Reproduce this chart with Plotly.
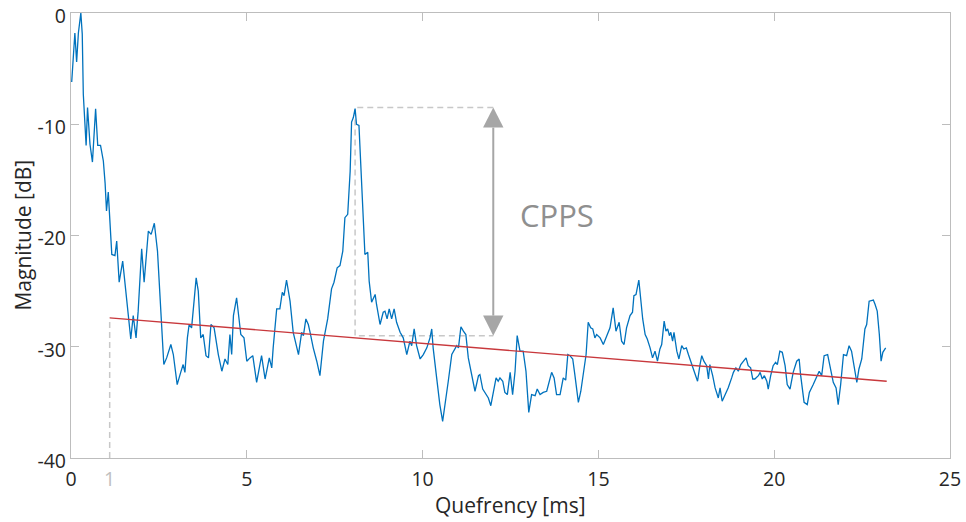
import plotly.graph_objects as go

# Cepstrum
quefrency = [
    0.02, 0.07, 0.11, 0.16, 0.21, 0.28, 0.32, 0.35, 0.43, 0.47, 0.54, 0.61, 0.70, 0.76, 0.84, 0.92, 0.97,
    1.01, 1.06, 1.16, 1.25, 1.30, 1.37, 1.47, 1.58, 1.63, 1.70, 1.77, 1.85, 1.91, 2.01, 2.08, 2.20, 2.28,
    2.37, 2.46, 2.55, 2.64, 2.72, 2.84, 2.91, 3.02, 3.12, 3.19, 3.24, 3.31, 3.36, 3.43, 3.50, 3.56, 3.62,
    3.69, 3.76, 3.84, 3.91, 3.98, 4.07, 4.12, 4.14, 4.19, 4.29, 4.38, 4.46, 4.52, 4.57, 4.62, 4.71, 4.79,
    4.83, 4.92, 5.00, 5.09, 5.17, 5.28,
    5.42, 5.52, 5.64, 5.71, 5.75, 5.85, 5.94, 6.01, 6.06, 6.13, 6.23, 6.32, 6.39, 6.47, 6.56, 6.61, 6.68,
    6.75, 6.80, 6.89, 6.99, 7.08, 7.18, 7.30, 7.41, 7.48,
    7.57, 7.65, 7.73, 7.79, 7.87, 7.94, 7.98, 8.03, 8.08, 8.12, 8.19, 8.25, 8.31, 8.36, 8.44, 8.48,
    8.55, 8.65, 8.69, 8.79, 8.88, 8.93, 8.99, 9.05, 9.12, 9.19, 9.26, 9.36, 9.45, 9.55, 9.64, 9.69, 9.76,
    9.83, 9.93, 10.02, 10.12, 10.21,
    10.26, 10.30, 10.40, 10.49, 10.57, 10.64, 10.73, 10.83, 10.92, 10.97, 11.02, 11.09, 11.16, 11.23, 11.30,
    11.40, 11.49, 11.59, 11.63, 11.71, 11.80, 11.87, 11.94, 12.01, 12.09, 12.15, 12.20, 12.28, 12.34, 12.41,
    12.49, 12.56, 12.63, 12.69, 12.77, 12.86, 12.94, 13.02, 13.10, 13.20, 13.26, 13.34, 13.43, 13.53, 13.60,
    13.67, 13.74, 13.81, 13.91, 14.00, 14.07, 14.13, 14.19, 14.27, 14.33, 14.43, 14.50, 14.57, 14.65, 14.71,
    14.78, 14.84, 14.90, 14.95,
    15.05, 15.14, 15.24, 15.33, 15.42, 15.50, 15.59, 15.66, 15.73, 15.80,
    15.90, 15.97, 16.01, 16.07, 16.15, 16.20, 16.26, 16.33, 16.39, 16.47,
    16.54, 16.61, 16.68, 16.75, 16.80, 16.87, 16.92, 16.97, 17.02, 17.06,
    17.11, 17.15, 17.23, 17.29, 17.37, 17.43, 17.50, 17.56, 17.65, 17.75,
    17.82, 17.89, 17.94, 18.00, 18.08, 18.13, 18.17, 18.25, 18.32, 18.41,
    18.46, 18.52, 18.60, 18.69, 18.79, 18.84, 18.91, 18.98, 19.05, 19.12,
    19.20, 19.26, 19.33, 19.39, 19.45, 19.55, 19.60, 19.66, 19.72, 19.79,
    19.83, 19.90, 19.97, 20.04, 20.09, 20.16, 20.23, 20.31, 20.37, 20.45,
    20.54, 20.64, 20.71, 20.75, 20.85, 20.94, 21.00, 21.11, 21.21, 21.28,
    21.35, 21.42, 21.52, 21.59, 21.68, 21.76, 21.82, 21.89, 21.97, 22.06,
    22.13, 22.20, 22.27, 22.35, 22.41, 22.49, 22.58, 22.63, 22.70, 22.82,
    22.87, 22.93, 22.99, 23.04, 23.09, 23.17,
]
magnitude = [
    -6.2, -3.7, -1.8, -4.4, -1.8, 0.0, -1.9, -7.3, -11.9, -8.5, -11.8, -13.4, -8.6, -11.9, -11.9, -13.3, -15.3,
    -17.8, -16.1, -21.7, -21.8, -20.5, -24.2, -22.3, -25.6, -27.1, -29.3, -27.2, -29.2, -26.8, -21.2, -24.2,
    -19.6, -19.9, -18.9, -21.4, -26.5, -31.6, -31.0, -29.8, -30.7, -33.4, -32.3, -31.6, -32.3, -29.2, -28.0,
    -28.3, -25.9, -23.8, -25.0, -29.2, -28.9, -30.8, -31.0, -28.0, -28.3, -29.2, -29.9, -30.7, -32.2, -31.1,
    -31.6, -28.9, -30.7, -27.2, -25.6, -27.7, -28.9, -29.2, -31.3, -31.0, -30.8, -33.2,
    -30.8, -32.9, -31.0, -31.9, -30.1, -26.6, -26.6, -25.1, -25.4, -24.0, -25.9, -28.7, -29.6, -30.7, -28.7,
    -29.0, -27.5, -28.0, -28.7, -30.1, -31.3, -32.6, -29.5, -27.5, -24.8, -24.2,
    -22.9, -22.7, -21.4, -18.4, -18.1, -14.2, -9.8, -9.4, -8.6, -10.0, -10.1, -13.9, -17.5, -21.7, -21.5, -24.1,
    -26.0, -25.3, -26.2, -28.0, -26.9, -26.8, -27.5, -26.6, -27.5, -26.6, -27.8, -28.7, -29.2, -30.7, -29.5,
    -29.9, -28.4, -29.9, -31.1, -30.7, -30.1, -29.2,
    -28.4, -30.1, -32.8, -35.2, -36.7, -34.9, -33.1, -30.7, -30.2, -29.9, -30.1, -28.2, -28.6, -28.9, -31.0,
    -32.6, -34.0, -32.6, -32.5, -33.8, -34.3, -34.6, -35.3, -34.0, -32.8, -33.1, -32.8, -33.1, -34.1, -34.3,
    -32.3, -34.3, -32.2, -29.0, -30.4, -30.4, -32.2, -35.9, -34.3, -34.4, -33.8, -34.3, -34.1, -34.0, -33.1,
    -32.3, -32.8, -34.3, -34.3, -32.8, -33.0, -30.7, -30.8, -31.1, -32.5, -35.0, -34.0, -32.5, -30.7, -27.8,
    -28.3, -28.4, -29.2, -28.9,
    -29.2, -29.8, -29.0, -28.3, -26.5, -28.6, -27.8, -29.5, -29.8, -28.3,
    -27.2, -26.9, -25.4, -25.3, -24.0, -25.9, -27.5, -28.9, -29.3, -30.1,
    -31.0, -30.4, -31.3, -30.2, -29.8, -27.7, -28.6, -28.4, -29.0, -28.7,
    -29.5, -28.7, -30.4, -31.1, -29.9, -30.2, -30.1, -30.7, -31.6, -32.5,
    -33.1, -31.6, -30.8, -31.3, -31.7, -32.9, -31.6, -32.6, -33.7, -34.6,
    -33.7, -34.9, -34.4, -33.7, -32.8, -32.3, -31.9, -32.2, -31.6, -31.3,
    -31.0, -31.7, -31.9, -32.9, -32.9, -32.6, -32.3, -32.9, -32.6, -33.1,
    -33.8, -32.6, -31.7, -31.4, -31.6, -30.4, -30.5, -31.7, -33.4, -33.8,
    -32.3, -31.3, -31.1, -32.5, -35.0, -35.2, -34.1, -33.4, -32.6, -32.2,
    -32.6, -30.8, -30.7, -31.7, -33.2, -33.7, -35.2, -33.4, -30.7, -30.8,
    -29.9, -30.4, -31.6, -33.2, -32.0, -31.1, -28.4, -28.0, -25.9, -25.8,
    -26.2, -26.8, -28.9, -31.3, -30.5, -30.1,
]

# Regression line endpoints
reg_q = [1.1, 23.2]
reg_m = [-27.4, -33.1]

# Peak and its reference point on the regression line
peak_q = 8.08
peak_m = -8.5
base_m = -29.0
arrow_q = 12.01
cpps_label = "CPPS"
cpps_pos = (13.82, -18.2)
start_q = 1.1

x_ticks = [0, 5, 10, 15, 20, 25]
x_ticktext = ["0", "5", "10", "15", "20", "25"]
y_ticks = [-40, -30, -20, -10, 0]
y_ticktext = ["-40", "-30", "-20", "-10", "0"]
x_title = "Quefrency [ms]"
y_title = "Magnitude [dB]"

FONT = "Open Sans, DejaVu Sans, sans-serif"
AX = "#bdbdbd"
TXT = "#262626"
DASH = "#c8c8c8"
ARR = "#a6a6a6"

fig = go.Figure()

# dashed guide lines
fig.add_trace(go.Scatter(x=[start_q, start_q], y=[-40, reg_m[0]], mode="lines",
                         line=dict(color=DASH, width=1.5, dash="6px,4px"), hoverinfo="skip"))
fig.add_trace(go.Scatter(x=[arrow_q, peak_q, peak_q, arrow_q], y=[peak_m, peak_m, base_m, base_m],
                         mode="lines", line=dict(color=DASH, width=1.5, dash="6px,4px"), hoverinfo="skip"))

fig.add_trace(go.Scatter(x=quefrency, y=magnitude, mode="lines",
                         line=dict(color="#0072BD", width=1.3), hoverinfo="skip"))
fig.add_trace(go.Scatter(x=reg_q, y=reg_m, mode="lines",
                         line=dict(color="#C8383C", width=1.4), hoverinfo="skip"))

# arrow (shaft + heads)
head_h = 1.8
head_w = 0.29
fig.add_shape(type="line", x0=arrow_q, x1=arrow_q, y0=peak_m - head_h, y1=base_m + head_h,
              xref="x", yref="y", line=dict(color=ARR, width=2))
fig.add_shape(type="path", xref="x", yref="y", fillcolor=ARR, line=dict(width=0),
              path=f"M {arrow_q-head_w},{peak_m-head_h} L {arrow_q+head_w},{peak_m-head_h} L {arrow_q},{peak_m} Z")
fig.add_shape(type="path", xref="x", yref="y", fillcolor=ARR, line=dict(width=0),
              path=f"M {arrow_q-head_w},{base_m+head_h} L {arrow_q+head_w},{base_m+head_h} L {arrow_q},{base_m} Z")

fig.add_annotation(x=cpps_pos[0], y=cpps_pos[1], text=cpps_label, showarrow=False,
                   font=dict(family=FONT, size=31, color="#8f8f8f"))
fig.add_annotation(x=start_q, y=-40, text="1", showarrow=False, yanchor="top", yshift=-5,
                   font=dict(family=FONT, size=19.5, color="#c0c0c0"))

# axis titles
fig.add_annotation(xref="paper", yref="paper", x=-0.0557, y=0.5, text=y_title, textangle=-90,
                   showarrow=False, xanchor="center", yanchor="middle",
                   font=dict(family=FONT, size=21, color=TXT))
fig.add_annotation(xref="paper", yref="paper", x=0.5, y=-0.106, text=x_title,
                   showarrow=False, xanchor="center", yanchor="middle",
                   font=dict(family=FONT, size=21, color=TXT))

fig.update_layout(
    width=966, height=522,
    margin=dict(l=71, r=16, t=13, b=64),
    plot_bgcolor="white", paper_bgcolor="white",
    showlegend=False,
    font=dict(family=FONT, color=TXT),
    xaxis=dict(range=[0, 25], tickvals=x_ticks, ticktext=x_ticktext, ticks="inside", ticklen=8, tickcolor=AX,
               showline=True, linecolor=AX, linewidth=1.2, mirror="ticks", showgrid=False, zeroline=False,
               automargin=False, ticklabelstandoff=3, ticklabeloverflow="allow",
               tickfont=dict(size=19.5, color=TXT)),
    yaxis=dict(range=[-40, 0], tickvals=y_ticks, ticktext=y_ticktext, ticks="inside", ticklen=8, tickcolor=AX,
               showline=True, linecolor=AX, linewidth=1.2, mirror="ticks", showgrid=False, zeroline=False,
               automargin=False, ticklabeloverflow="allow", ticklabelshift=3,
               tickfont=dict(size=19.5, color=TXT)),
)

fig.write_html("out.html")
